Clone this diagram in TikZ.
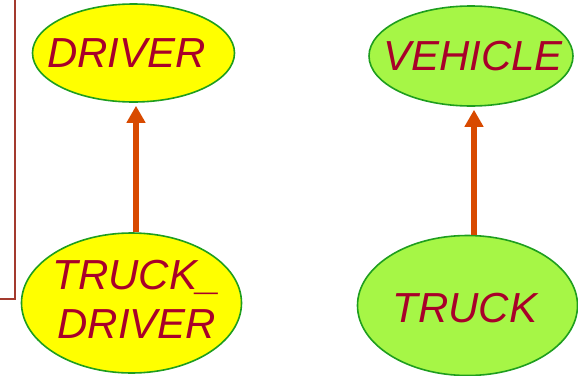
\documentclass[tikz,border=0pt]{standalone}
\usepackage{fontspec}
\setmainfont{Liberation Sans}
\usetikzlibrary{shapes.geometric,arrows.meta}
\definecolor{txtred}{HTML}{A8002A}
\definecolor{edgegreen}{HTML}{1E9E1E}
\definecolor{fillyellow}{HTML}{FFFF00}
\definecolor{fillgreen}{HTML}{A6F646}
\definecolor{arrowred}{HTML}{D84A00}
\definecolor{bracketred}{HTML}{A33A2E}
\tikzset{
  ent/.style={ellipse, draw=edgegreen, line width=1.6pt, inner sep=0pt},
  lbl/.style={text=txtred, inner sep=0pt, font=\fontsize{42}{49}\selectfont\itshape},
  isa/.style={draw=arrowred, line width=5.5pt,
    -{Triangle[width=18pt,length=17pt]}, shorten >=3pt}
}
\begin{document}
\begin{tikzpicture}[x=1pt,y=-1pt]
\useasboundingbox (0,0) rectangle (578,375);
\node[ent, fill=fillyellow, minimum width=202pt, minimum height=98pt,
  label={[lbl, xshift=-7pt]center:DRIVER}] (driver) at (133.5,53) {};
\node[ent, fill=fillyellow, minimum width=220pt, minimum height=140pt,
  label={[lbl, align=left, xshift=5pt, yshift=4pt]center:{TRUCK\_\\\hspace{5pt}DRIVER}}] (td) at (131.5,303) {};
\node[ent, fill=fillgreen, minimum width=204pt, minimum height=100pt,
  label={[lbl, xshift=2pt]center:VEHICLE}] (vehicle) at (471,56) {};
\node[ent, fill=fillgreen, minimum width=220pt, minimum height=140pt,
  label={[lbl, xshift=-2.5pt, yshift=-2.5pt]center:TRUCK}] (truck) at (467.5,305.5) {};
\draw[isa] (td.north -| 136,0) -- (driver.south -| 136,0);
\coordinate (bt) at (15,0);
\coordinate (bc) at (15,299);
\coordinate (bl) at (0,299);
\draw[bracketred, line width=1.8pt] (bt) -- (bc) -- (bl);
\draw[isa] (truck.north -| 474,0) -- (vehicle.south -| 474,0);
\end{tikzpicture}
\end{document}
